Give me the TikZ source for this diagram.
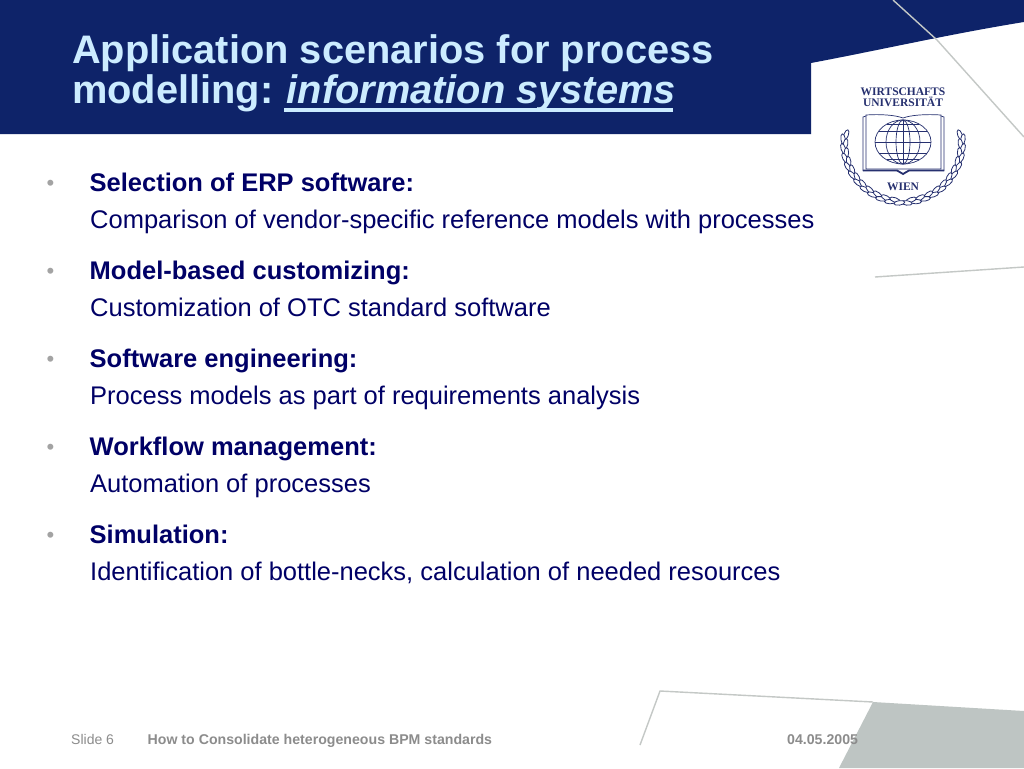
\documentclass[tikz,border=0pt]{standalone}
\usepackage{fontspec}
\setmainfont{Liberation Sans}
\newfontfamily\logofont{Liberation Serif}
\definecolor{navyband}{HTML}{0E2369}
\definecolor{titlecol}{HTML}{CCECFF}
\definecolor{bodycol}{HTML}{000066}
\definecolor{linegrey}{HTML}{C4C8C6}
\definecolor{greyfill}{HTML}{BEC5C3}
\definecolor{footgrey}{HTML}{8C8C8C}
\definecolor{logocol}{HTML}{26306F}
\usetikzlibrary{shapes.geometric}
\tikzset{
  x=1pt,y=-1pt,
  titletext/.style={anchor=base west,inner sep=0,text=titlecol,font=\fontsize{39.8}{40}\selectfont\bfseries},
  headtext/.style={anchor=base west,inner sep=0,text=bodycol,font=\fontsize{25.5}{26}\selectfont\bfseries},
  bodytext/.style={anchor=base west,inner sep=0,text=bodycol,font=\fontsize{25.5}{26}\selectfont},
  bullettext/.style={anchor=base,inner sep=0,text=footgrey!80,font=\fontsize{22}{22}\selectfont},
  foottext/.style={anchor=base west,inner sep=0,text=footgrey,font=\fontsize{14}{14}\selectfont},
  footbold/.style={foottext,font=\fontsize{14.15}{14}\selectfont\bfseries},
  logotext/.style={anchor=base,inner sep=0,text=logocol,font=\logofont\bfseries\fontsize{11.5}{12}\selectfont},
  deco/.style={draw=linegrey,line width=1.4pt},
  logoline/.style={draw=logocol,line width=0.7pt},
  leaf/.style={draw=logocol,line width=0.8pt,fill=white,ellipse,minimum width=11pt,minimum height=4.5pt,inner sep=0}
}
\begin{document}
\begin{tikzpicture}
\useasboundingbox (0,0) rectangle (1024,768);
\fill[white] (0,0) rectangle (1024,768);
% band
\fill[navyband] (0,0) -- (1024,0) -- (1024,22) .. controls (950,34) and (880,50) .. (811,63) -- (811,134) -- (0,134) -- cycle;
% decoration
\draw[deco] (893,0) -- (937,40) -- (1024,137);
\draw[deco] (875,277) -- (1024,267);
\fill[greyfill] (873,702) -- (1024,711) -- (1024,768) -- (839,768) -- cycle;
\draw[deco] (640,745) -- (660,691) -- (873,702);
% title
\node[titletext] (t1) at (72,63.5) {Application scenarios for process};
\node[titletext] (t2) at (72,103.5) {modelling: \kern-1.5pt\textit{information systems}};
\draw[titlecol,line width=3.4pt] (284,110) -- (673,110);
% body
\node[bullettext] (b1) at (50.5,190) {•};
\node[headtext] (h1) at (89.5,191.5) {Selection of ERP software:};
\node[bodytext] (d1) at (90,228.5) {Comparison of vendor-specific reference models with processes};
\node[bullettext] (b2) at (50.5,278) {•};
\node[headtext] (h2) at (89.5,279.5) {Model-based customizing:};
\node[bodytext] (d2) at (90,316.5) {Customization of OTC standard software};
\node[bullettext] (b3) at (50.5,366) {•};
\node[headtext] (h3) at (89.5,367.5) {Software engineering:};
\node[bodytext] (d3) at (90,404.5) {Process models as part of requirements analysis};
\node[bullettext] (b4) at (50.5,454) {•};
\node[headtext] (h4) at (89.5,455.5) {Workflow management:};
\node[bodytext] (d4) at (90,492.5) {Automation of processes};
\node[bullettext] (b5) at (50.5,542) {•};
\node[headtext] (h5) at (89.5,543.5) {Simulation:};
\node[bodytext] (d5) at (90,580.5) {Identification of bottle-necks, calculation of needed resources};
% footer
\node[foottext] (f1) at (71,744) {Slide 6};
\node[footbold] (f2) at (147.5,744) {How to Consolidate heterogeneous BPM standards};
\node[footbold] (f3) at (787,744) {04.05.2005};
% logo
\node[logotext] (l1) at (903,95) {WIRTSCHAFTS};
\node[logotext] (l2) at (903,106) {UNIVERSITÄT};
\node[logotext] (l3) at (903,190) {WIEN};
\draw[logoline] (866,115) .. controls (880,114) and (895,115) .. (903,118) .. controls (911,115) and (926,114) .. (941,115) -- (941,169) -- (866,169) -- cycle;
\draw[logoline] (941,116) -- (944,117) -- (944,171);
\draw[logoline] (866,116) -- (863,117) -- (863,171);
\draw[logocol,line width=1.8pt] (863,170.5) -- (897,170.5) .. controls (900,171) and (901,174) .. (903,174) .. controls (905,174) and (906,171) .. (909,170.5) -- (944,170.5);
\draw[logoline] (903,142) ellipse [x radius=28,y radius=22];
\draw[logoline] (903,142) ellipse [x radius=17,y radius=22];
\draw[logoline] (903,142) ellipse [x radius=7,y radius=22];
\draw[logoline] (903,120) -- (903,164);
\draw[logoline] (875,142) -- (931,142);
\draw[logoline] (879,131) -- (927,131);
\draw[logoline] (879,153) -- (927,153);
\draw[logoline] (887,124.5) -- (919,124.5);
\draw[logoline] (887,159.5) -- (919,159.5);
\foreach \a [count=\i] in {-8,-3.5,...,87}{
  \pgfmathsetmacro{\r}{iseven(\i)?60:57.5}
  \pgfmathsetmacro{\tw}{iseven(\i)?-12:12}
  \node[leaf,rotate={-\a-90+\tw}] at ({903+\r*cos(\a)},{143+\r*sin(\a)}) {};
  \node[leaf,rotate={\a+90-\tw}] at ({903-\r*cos(\a)},{143+\r*sin(\a)}) {};
}
\end{tikzpicture}
\end{document}
